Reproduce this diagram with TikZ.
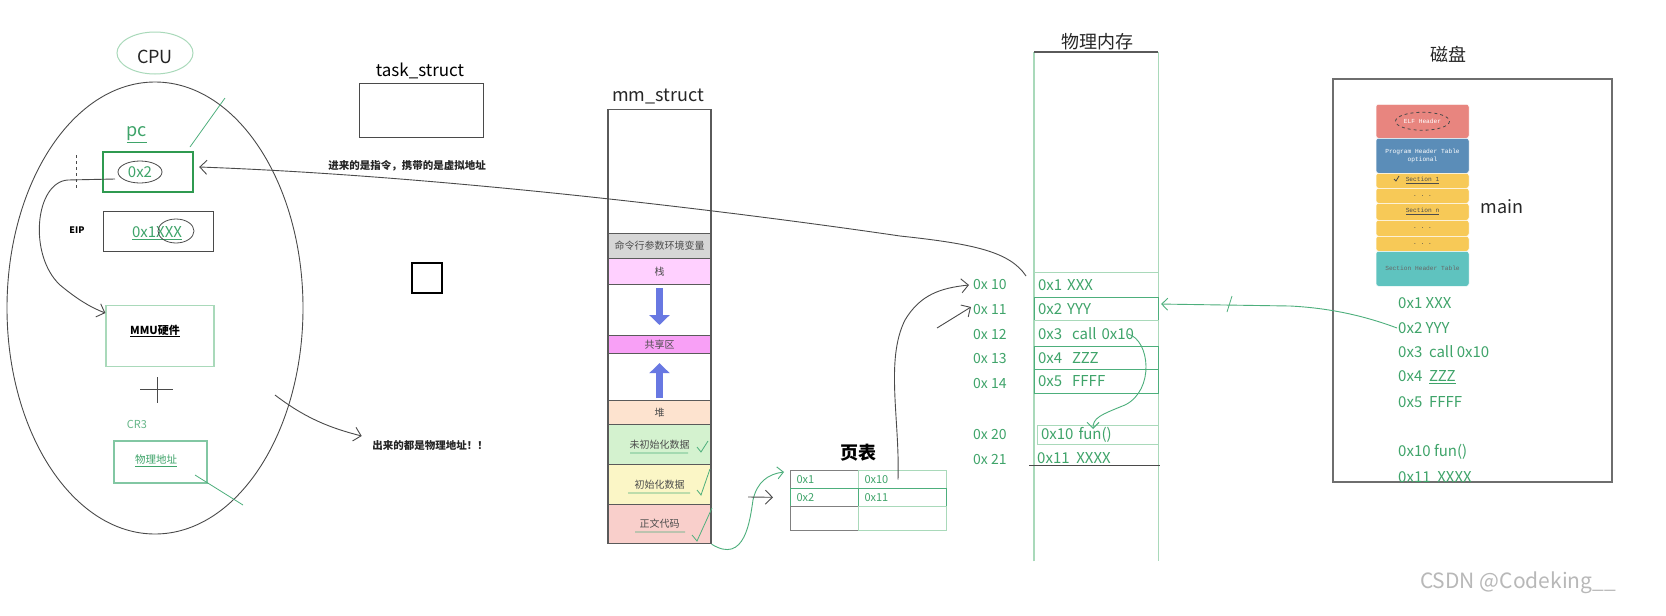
\documentclass[tikz,border=0pt]{standalone}
\usepackage{fontspec}
\setmainfont{Noto Sans CJK SC}
\setmonofont{Liberation Mono}
\usepackage{tikz}
\usetikzlibrary{shapes.geometric, arrows.meta, positioning, calc}
\definecolor{codegreen}{HTML}{3FA46A}
\definecolor{linegreen}{HTML}{A9D9BA}
\definecolor{boxgreen}{HTML}{4DAF7C}
\definecolor{pcgreen}{HTML}{2F9A50}
\definecolor{handgray}{HTML}{4A4A4A}
\definecolor{segborder}{HTML}{5A5A5A}
\definecolor{cmdfill}{HTML}{D6D6D6}
\definecolor{stackfill}{HTML}{FFD0FF}
\definecolor{sharefill}{HTML}{F8A0F6}
\definecolor{heapfill}{HTML}{FDE3CF}
\definecolor{bssfill}{HTML}{D4F2CF}
\definecolor{datafill}{HTML}{FBF6C6}
\definecolor{textfill}{HTML}{F9CFCB}
\definecolor{arrowblue}{HTML}{6878E2}
\definecolor{elfred}{HTML}{E8857F}
\definecolor{elfblue}{HTML}{5B8DB8}
\definecolor{elfyellow}{HTML}{F7C957}
\definecolor{elfteal}{HTML}{5FC3BF}

\begin{document}
\begin{tikzpicture}[x=1pt, y=-1pt,
    title/.style={font=\fontsize{18}{20}\selectfont, text=black!85},
    codetext/.style={font=\fontsize{15}{17}\selectfont, text=codegreen, inner sep=1pt},
    addr/.style={font=\fontsize{14}{16}\selectfont, text=codegreen, anchor=west, inner sep=1pt},
    note/.style={font=\fontsize{10.5}{12}\selectfont\bfseries, text=black!85},
    segment/.style={rectangle, draw=segborder, line width=1.2pt, fill=#1, minimum width=103pt, anchor=north, inner sep=0pt, font=\fontsize{10}{12}\selectfont, text=black!70},
    memrow/.style={rectangle, draw=#1, line width=1.1pt, anchor=north west, minimum width=124pt, text width=117pt, inner xsep=3.5pt, inner ysep=0pt, align=left, font=\fontsize{15}{17}\selectfont, text=codegreen},
    ptcell/.style={rectangle, draw=#1, line width=1pt, anchor=north west, inner ysep=0pt, inner xsep=6pt, align=left, font=\fontsize{11}{13}\selectfont, text=codegreen},
    elfpart/.style={rectangle, rounded corners=2.5pt, fill=#1, draw=white, line width=0.5pt, minimum width=93pt, anchor=north, inner sep=0pt, align=center, font=\ttfamily\fontsize{6.2}{7.5}\selectfont},
    arrow/.style={-{Straight Barb[length=7pt,width=14pt]}, handgray, line width=0.9pt},
    greenarrow/.style={-{Straight Barb[length=6pt,width=12pt]}, boxgreen, line width=0.9pt},
    fatarrow/.style={-{Triangle[length=10pt,width=20pt]}, line width=7pt, draw=arrowblue},
    greenmark/.style={boxgreen, line width=0.8pt},
    scribble/.style={handgray, line width=0.8pt}
]
\fill[white] (0,0) rectangle (1666,616);
\useasboundingbox (0,0) rectangle (1666,616);

% CPU with its registers
\node[title] (cpu) at (155,57) {CPU};
\node[ellipse, draw=linegreen, line width=1pt, minimum width=76pt, minimum height=42pt] (cpuring) at (155,53) {};
\node[ellipse, draw=handgray, line width=0.9pt, minimum width=296pt, minimum height=452pt] (cpuoval) at (155,308) {};

\node[font=\fontsize{18}{20}\selectfont, text=codegreen] (pclabel) at (137,135) {\underline{pc}};
\node[draw=pcgreen, line width=2.4pt, minimum width=90pt, minimum height=40pt, inner sep=0pt] (pc) at (148,172) {};
\node[codetext] (pcval) at (140,172) {0x2};
\draw[scribble] (pcval) ellipse (22 and 11);
\draw[greenmark] (190,147) -- (225,98);
\draw[scribble, dashed] (76,155) -- (76,190);

\node[font=\fontsize{9}{11}\selectfont\bfseries] (eiplabel) at (77,230) {EIP};
\node[draw=handgray, line width=0.9pt, minimum width=110pt, minimum height=40pt, inner sep=0pt] (eip) at (158,231) {};
\node[codetext] (eipval) at (157,233) {\underline{0x1XXX}};
\draw[scribble] (176,231) ellipse (18 and 12);

\node[draw=linegreen, line width=1.2pt, minimum width=108pt, minimum height=61pt, inner sep=0pt] (mmu) at (160,336) {};
\node[font=\fontsize{11}{13}\selectfont\bfseries] (mmulabel) at (155,331) {\underline{MMU硬件}};
\draw[handgray, line width=0.9pt] (140,389) -- (173,389) (157,377) -- (157,403);
\node[font=\fontsize{11}{13}\selectfont, text=codegreen!80] (cr3) at (137,424) {CR3};
\node[draw=boxgreen!70, line width=1.1pt, minimum width=93pt, minimum height=42pt, inner sep=0pt] (physbox) at (160.5,462) {};
\node[font=\fontsize{10.5}{12}\selectfont, text=codegreen] (physlabel) at (156,461) {\underline{物理地址}};
\draw[greenmark] (195,475) -- (243,505);

% pc -> MMU
\coordinate (pcout) at (115,179);
\draw[arrow] (pcout) -- (68,180) .. controls (35,182) and (28,255) .. (60,285) .. controls (78,300) and (92,308) .. ([yshift=23pt]mmu.west);

% task_struct and notes
\node[font=\fontsize{17}{19}\selectfont] (tasktitle) at (420,71) {task\_struct};
\node[draw=handgray, line width=1pt, minimum width=124pt, minimum height=54pt, inner sep=0pt] (task) at (421,110) {};
\node[note] (virtnote) at (407,166) {进来的是指令，携带的是虚拟地址};
\node[draw=black, line width=1.5pt, minimum width=30pt, minimum height=30pt, inner sep=0pt] (blank) at (427,278) {};
\node[note] (physout) at (430,446) {出来的都是物理地址！！};
\coordinate (outstart) at (275,395);
\draw[arrow] (outstart) .. controls (305,418) and (330,428) .. ([xshift=-7pt,yshift=10pt]physout.west);

% mm_struct segments
\node[title] (mmtitle) at (658,96) {mm\_struct};
\node[segment=white, minimum height=124pt] (topseg) at (659.5,109) {};
\node[segment=cmdfill, minimum height=25pt] (cmdseg) at (659.5,233) {命令行参数环境变量};
\node[segment=stackfill, minimum height=26pt] (stackseg) at (659.5,258) {栈};
\node[segment=white, minimum height=51pt] (gapone) at (659.5,284) {};
\node[segment=sharefill, minimum height=18pt] (shareseg) at (659.5,335) {共享区};
\node[segment=white, minimum height=47pt] (gaptwo) at (659.5,353) {};
\node[segment=heapfill, minimum height=24pt] (heapseg) at (659.5,400) {堆};
\node[segment=bssfill, minimum height=40pt] (bssseg) at (659.5,424) {未初始化数据};
\node[segment=datafill, minimum height=40pt] (dataseg) at (659.5,464) {初始化数据};
\node[segment=textfill, minimum height=39pt] (textseg) at (659.5,504) {正文代码};
\draw[fatarrow, shorten <=3pt, shorten >=10pt] (stackseg.south) -- (shareseg.north);
\draw[fatarrow, shorten <=2pt, shorten >=9pt] (heapseg.north) -- (shareseg.south);
% ticks
\draw[greenmark] (630,453) -- (688,453) (697,447) -- (701,452) -- (708,441);
\draw[greenmark] (628,493) -- (690,493) (697,490) -- (701,495) -- (710,469);
\draw[greenmark] (635,532) -- (685,532) (692,535) -- (697,541) -- (712,508);

% page table
\node[font=\fontsize{18}{20}\selectfont\bfseries] (pttitle) at (858,453) {页表};
\node[ptcell=handgray!70, minimum width=68pt, minimum height=18pt, text width=56pt] (ptv1) at (790,470) {0x1};
\node[ptcell=linegreen, minimum width=88pt, minimum height=18pt, text width=76pt] (ptp1) at (858,470) {0x10};
\node[ptcell=boxgreen, minimum width=68pt, minimum height=18pt, text width=56pt] (ptv2) at (790,488) {0x2};
\node[ptcell=boxgreen, minimum width=88pt, minimum height=18pt, text width=76pt] (ptp2) at (858,488) {0x11};
\node[ptcell=handgray!70, minimum width=68pt, minimum height=24pt, text width=56pt] (ptv3) at (790,506) {};
\node[ptcell=linegreen, minimum width=88pt, minimum height=24pt, text width=76pt] (ptp3) at (858,506) {};
\draw[greenarrow] (textseg.south east) .. controls (745,565) and (750,520) .. (753,500) .. controls (757,482) and (768,474) .. ([xshift=-6pt,yshift=-2pt]ptv1.north west);
\coordinate (graytail) at (748,497);
\draw[arrow, shorten >=17pt] (graytail) -- (ptv2.west);

% physical memory
\node[title] (memtitle) at (1097,42) {物理内存};
\node[minimum width=124pt, minimum height=509pt, anchor=north west, inner sep=0pt] (mem) at (1034,52) {};
\draw[linegreen, line width=1.3pt] (mem.south west) -- (mem.north west) (mem.north east) -- (mem.south east);
\draw[segborder, line width=1.5pt] (mem.north west) -- (mem.north east);
\node[memrow=linegreen, minimum height=25pt] (m1) at (1034,272) {0x1 XXX};
\node[memrow=boxgreen, minimum height=23pt] (m2) at (1034,297) {0x2 YYY};
\node[memrow=linegreen, minimum height=26pt] (m3) at (1034,320) {0x3\ \ call 0x10};
\node[memrow=boxgreen, minimum height=23pt] (m4) at (1034,346) {0x4\ \ ZZZ};
\node[memrow=boxgreen, minimum height=24pt] (m5) at (1034,369) {0x5\ \ FFFF};
\node[memrow=linegreen, minimum height=19pt, minimum width=121pt, text width=114pt] (m6) at (1037,425) {0x10 fun()};
\node[codetext, anchor=west] (m7) at (1036,458) {0x11\ \ XXXX};
\draw[handgray, line width=1pt] (1029,465) -- (1160,465);

\node[addr] (a10) at (972,285) {0x 10};
\node[addr] (a11) at (972,310) {0x 11};
\node[addr] (a12) at (972,335) {0x 12};
\node[addr] (a13) at (972,359) {0x 13};
\node[addr] (a14) at (972,384) {0x 14};
\node[addr] (a20) at (972,435) {0x 20};
\node[addr] (a21) at (972,460) {0x 21};

\coordinate (memin) at (1026,276);
\draw[arrow] (memin) .. controls (1010,252) and (975,244) .. (900,236) .. controls (750,214) and (450,176) .. ([xshift=5pt,yshift=5pt]pc.east);
\draw[arrow] ([xshift=-49pt]ptp1.east) .. controls (900,420) and (885,360) .. (905,320) .. controls (920,295) and (940,288) .. ([xshift=-3pt]a10.west);
\coordinate (ptnote) at (937,328);
\draw[arrow] (ptnote) .. controls (950,320) .. ([xshift=-1pt,yshift=3pt]a11.west);
\coordinate (callsrc) at (1128,334);
\draw[greenarrow] (callsrc) .. controls (1150,340) and (1155,390) .. (1125,405) .. controls (1100,415) and (1093,418) .. ([xshift=56pt,yshift=-4pt]m6.north west);

% disk with the ELF file
\node[title] (disktitle) at (1448,54) {磁盘};
\node[draw=handgray!80, line width=1.2pt, minimum width=279pt, minimum height=403pt, inner sep=0pt] (disk) at (1472.5,280.5) {};
\node[elfpart=elfred, minimum height=34pt, text=white] (elfhdr) at (1422.5,104) {ELF Header};
\draw[scribble, dashed] (elfhdr) ellipse (27 and 9);
\node[elfpart=elfblue, minimum height=35pt, text=white] (phdr) at (1422.5,138) {Program Header Table\\optional};
\node[elfpart=elfyellow, minimum height=15pt, text=black!70] (sec1) at (1422.5,173) {\underline{Section 1}};
\node[elfpart=elfyellow, minimum height=15pt, text=black!70] (dots1) at (1422.5,188) {. . .};
\node[elfpart=elfyellow, minimum height=17pt, text=black!70] (secn) at (1422.5,203) {\underline{Section n}};
\node[elfpart=elfyellow, minimum height=16pt, text=black!70] (dots2) at (1422.5,220) {. . .};
\node[elfpart=elfyellow, minimum height=15pt, text=black!70] (dots3) at (1422.5,236) {. . .};
\node[elfpart=elfteal, minimum height=35pt, text=black!60] (shdr) at (1422.5,251) {Section Header Table};
\draw[scribble] (1394,179) -- (1396,181) -- (1399,176);
\node[title] (mainlabel) at (1502,207) {main};

\node[codetext, anchor=west] (d1) at (1397,303) {0x1 XXX};
\node[codetext, anchor=west] (d2) at (1397,328) {0x2 YYY};
\node[codetext, anchor=west] (d3) at (1397,352) {0x3\ \ call 0x10};
\node[codetext, anchor=west] (d4) at (1397,377) {0x4\ \ \underline{ZZZ}};
\node[codetext, anchor=west] (d5) at (1397,402) {0x5\ \ FFFF};
\node[codetext, anchor=west] (d6) at (1397,452) {0x10 fun()};
\node[codetext, anchor=west] (d7) at (1397,477) {0x11\ \ XXXX};

\draw[greenarrow] (d2.west) .. controls (1365,316) and (1330,308) .. (1290,306) -- ([xshift=2pt,yshift=5pt]m2.east);
\draw[greenmark] (1232,296) -- (1227,312);

% watermark
\node[font=\fontsize{21}{23}\selectfont, text=black!28] (csdn) at (1518,583) {CSDN @Codeking\_\_};
\end{tikzpicture}
\end{document}
